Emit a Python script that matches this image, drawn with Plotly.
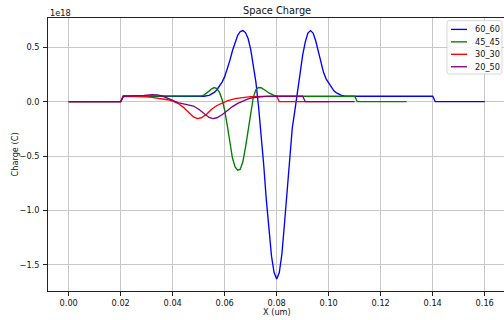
import plotly.graph_objects as go
import re

# ---------------- data (charge in units of 1e18 C, x in um) ----------------
names = ["60_60", "45_45", "30_30", "20_50"]
colors = ["#0000ff", "#008000", "#ff0000", "#800080"]

x_60_60 = [0.000, 0.020, 0.021, 0.050, 0.052, 0.054, 0.055, 0.056, 0.057, 0.058, 0.059,
           0.060, 0.061, 0.062, 0.063, 0.064, 0.065, 0.066, 0.067, 0.068, 0.069,
           0.070, 0.071, 0.072, 0.073, 0.074, 0.075, 0.076, 0.077, 0.078, 0.079,
           0.080, 0.081, 0.082, 0.083, 0.084, 0.085, 0.086, 0.087, 0.088, 0.089,
           0.090, 0.091, 0.092, 0.093, 0.094, 0.095, 0.096, 0.097, 0.098, 0.099,
           0.100, 0.101, 0.102, 0.103, 0.104, 0.105, 0.106, 0.108, 0.140, 0.141, 0.160]
y_60_60 = [0.0, 0.0, 0.05, 0.05, 0.05, 0.058, 0.068, 0.085, 0.11, 0.14, 0.18,
           0.23, 0.30, 0.38, 0.47, 0.55, 0.61, 0.645, 0.653, 0.635, 0.58,
           0.48, 0.34, 0.18, -0.04, -0.28, -0.58, -0.90, -1.19, -1.42, -1.57,
           -1.63, -1.57, -1.40, -1.12, -0.80, -0.48, -0.24, -0.08, 0.10, 0.28,
           0.43, 0.55, 0.63, 0.653, 0.63, 0.56, 0.46, 0.36, 0.27, 0.21,
           0.17, 0.13, 0.10, 0.08, 0.066, 0.058, 0.053, 0.05, 0.05, 0.0, 0.0]

x_45_45 = [0.000, 0.020, 0.021, 0.050, 0.051, 0.052, 0.053, 0.054, 0.055, 0.056, 0.057,
           0.058, 0.059, 0.060, 0.061, 0.062, 0.063, 0.064, 0.065, 0.066, 0.067,
           0.068, 0.069, 0.070, 0.071, 0.072, 0.073, 0.074, 0.075, 0.076, 0.077,
           0.078, 0.079, 0.080, 0.082, 0.110, 0.111, 0.130]
y_45_45 = [0.0, 0.0, 0.05, 0.05, 0.053, 0.06, 0.075, 0.097, 0.118, 0.13, 0.12,
           0.085, 0.02, -0.08, -0.22, -0.38, -0.52, -0.60, -0.63, -0.62, -0.55,
           -0.42, -0.26, -0.09, 0.04, 0.11, 0.13, 0.128, 0.115, 0.098, 0.08,
           0.066, 0.057, 0.052, 0.05, 0.05, 0.0, 0.0]

x_30_30 = [0.000, 0.020, 0.021, 0.026, 0.028, 0.030, 0.032, 0.034, 0.036, 0.038, 0.040,
           0.042, 0.044, 0.046, 0.048, 0.0495, 0.051, 0.053, 0.055, 0.057, 0.059,
           0.061, 0.064, 0.067, 0.070, 0.074, 0.080, 0.081, 0.100]
y_30_30 = [0.0, 0.0, 0.05, 0.05, 0.048, 0.045, 0.04, 0.034, 0.027, 0.018, 0.005,
           -0.015, -0.05, -0.10, -0.14, -0.155, -0.148, -0.115, -0.07, -0.035, -0.01,
           0.008, 0.028, 0.04, 0.046, 0.049, 0.05, 0.0, 0.0]

x_20_50 = [0.000, 0.020, 0.021, 0.026, 0.029, 0.032, 0.034, 0.036, 0.038, 0.040, 0.042,
           0.044, 0.046, 0.048, 0.050, 0.052, 0.054, 0.0555, 0.057, 0.059, 0.061,
           0.063, 0.065, 0.067, 0.069, 0.071, 0.073, 0.076, 0.080, 0.090, 0.091, 0.110]
y_20_50 = [0.0, 0.0, 0.05, 0.052, 0.058, 0.064, 0.062, 0.052, 0.035, 0.012, -0.008,
           -0.02, -0.027, -0.04, -0.07, -0.11, -0.145, -0.155, -0.148, -0.12, -0.08,
           -0.045, -0.015, 0.008, 0.025, 0.038, 0.045, 0.049, 0.05, 0.05, 0.0, 0.0]

series_x = [x_60_60, x_45_45, x_30_30, x_20_50]
series_y = [y_60_60, y_45_45, y_30_30, y_20_50]

x_ticks = [0.00, 0.02, 0.04, 0.06, 0.08, 0.10, 0.12, 0.14, 0.16]
y_ticks = [-1.5, -1.0, -0.5, 0.0, 0.5]

# ---------------- layout geometry (pixels) ----------------
W, H = 504, 320
L, R, T, B = 48, 504, 18, 291
FONT = "DejaVu Sans"
TXT = "#111111"
FS = 8.2


def px(xp):
    return (xp - L) / (R - L)


def py(yp):
    return 1 - (yp - T) / (B - T)


fig = go.Figure()
for nm, c, xs, ys in zip(names, colors, series_x, series_y):
    fig.add_trace(go.Scatter(x=xs, y=ys, mode="lines", name=nm,
                             line=dict(color=c, width=1.35), showlegend=False))

axis_common = dict(showgrid=True, gridcolor="#c8c8c8", gridwidth=0.8, zeroline=False,
                   showline=True, linecolor="#222", linewidth=0.9,
                   ticks="outside", ticklen=4, tickwidth=0.8, tickcolor="#222",
                   tickfont=dict(family=FONT, size=FS, color=TXT))

fig.update_layout(
    width=W, height=H, autosize=False,
    margin=dict(l=L, r=W - R, t=T, b=H - B, pad=0),
    paper_bgcolor="white", plot_bgcolor="white",
    xaxis=dict(range=[-0.00796, 0.16742], tickvals=x_ticks,
               ticktext=[f"{v:.2f}" for v in x_ticks], mirror=True, **axis_common),
    yaxis=dict(range=[-1.740, 0.769], tickvals=y_ticks,
               ticktext=[f"{v:.1f}".replace("-", "\u2212") for v in y_ticks],
               mirror=False, ticklabelstandoff=2, **axis_common),
)

annotations = [
    dict(text="Space Charge", x=px(276.7), y=py(10), font=dict(size=9.8)),
    dict(text="1e18", x=px(48.5), y=py(13.3), xanchor="left", font=dict(size=FS)),
    dict(text="X (um)", x=px(277), y=py(311.7), font=dict(size=FS)),
    dict(text="Charge (C)", x=px(14), y=py(154.5), textangle=-90, font=dict(size=FS)),
]

# legend (top right)
lx0, lx1, ly0, ly1 = 447, 502, 20.7, 74
r = 2
path = (f"M {lx0 + r},{ly0} L {lx1 - r},{ly0} Q {lx1},{ly0} {lx1},{ly0 + r} "
        f"L {lx1},{ly1 - r} Q {lx1},{ly1} {lx1 - r},{ly1} L {lx0 + r},{ly1} "
        f"Q {lx0},{ly1} {lx0},{ly1 - r} L {lx0},{ly0 + r} Q {lx0},{ly0} {lx0 + r},{ly0} Z")


def conv_path(p):
    def rep(m):
        a, b = float(m.group(1)), float(m.group(2))
        return f"{px(a):.5f},{py(b):.5f}"
    return re.sub(r"([\d.]+),([\d.]+)", rep, p)


shapes = [dict(type="path", xref="paper", yref="paper", path=conv_path(path),
               fillcolor="rgba(255,255,255,0.85)", line=dict(color="#cccccc", width=0.8),
               layer="above")]
for i, (nm, c) in enumerate(zip(names, colors)):
    yy = 29.4 + 12.45 * i
    shapes.append(dict(type="line", xref="paper", yref="paper",
                       x0=px(451), x1=px(467), y0=py(yy), y1=py(yy),
                       line=dict(color=c, width=1.35), layer="above"))
    annotations.append(dict(text=nm, x=px(473.5), y=py(yy), xanchor="left",
                            font=dict(size=FS)))

for a in annotations:
    a.setdefault("xanchor", "center")
    a.setdefault("yanchor", "middle")
    a.update(xref="paper", yref="paper", showarrow=False, borderpad=0)
    a["font"] = dict(family=FONT, color=TXT, **a["font"])

fig.update_layout(annotations=annotations, shapes=shapes)
fig.write_html("out.html")
